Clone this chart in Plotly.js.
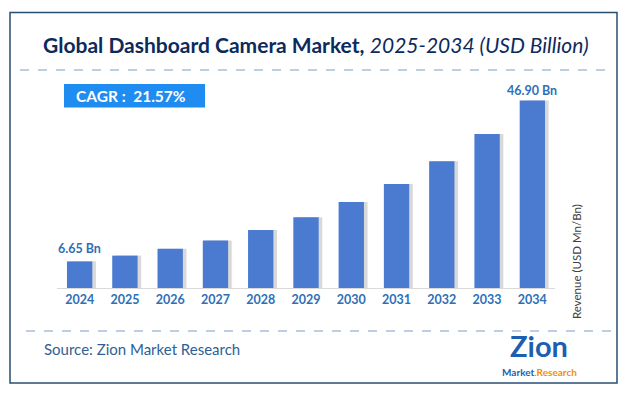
<!DOCTYPE html>
<html>
<head>
<meta charset="utf-8">
<script src="https://cdn.plot.ly/plotly-3.0.1.min.js"></script>
<style>html,body{margin:0;padding:0;background:#fff;}#chart{width:632px;height:398px;}</style>
</head>
<body>
<div id="chart"></div>
<script>
const years = ['2024','2025','2026','2027','2028','2029','2030','2031','2032','2033','2034'];
const revenue = [6.65, 8.1, 9.8, 11.9, 14.5, 17.7, 21.5, 26.0, 31.7, 38.5, 46.9];
const labelYears = ['2024','2034'];
const labelTexts = ['6.65 Bn','46.90 Bn'];
const titleMain = 'Global Dashboard Camera Market,';
const titleSub = '2025-2034 (USD Billion)';
const cagrText = 'CAGR :  21.57%';
const sourceText = 'Source: Zion Market Research';
const yTitle = 'Revenue (USD Mn/Bn)';

const W = 632, H = 398;
const M = {l: 57, r: 77, t: 88, b: 110};
const PW = W - M.l - M.r, PH = H - M.t - M.b;
const X = px => (px - M.l) / PW;
const Y = py => (H - M.b - py) / PH;
const FONT = 'Lato, "Open Sans", sans-serif';

const shadow = {
  type: 'bar', x: years, y: revenue, width: 0.56, offset: -0.2,
  marker: {color: 'rgba(0,0,0,0.15)', line: {width: 0}},
  hoverinfo: 'skip', showlegend: false
};
const bars = {
  type: 'bar', x: years, y: revenue, width: 0.56,
  marker: {color: '#4a7bd1', line: {width: 0}},
  showlegend: false
};

const annotations = [
  {xref: 'paper', yref: 'paper', x: X(316), y: Y(44), xanchor: 'center', yanchor: 'middle', showarrow: false,
   text: '<b>' + titleMain + '</b> <i>' + titleSub + '</i>',
   font: {family: FONT, size: 21, color: '#0d2a5c'}},
  {xref: 'paper', yref: 'paper', x: X(131), y: Y(96), xanchor: 'center', yanchor: 'middle', showarrow: false,
   text: '<b>' + cagrText + '</b>', font: {family: FONT, size: 15.5, color: '#ffffff'}},
  {xref: 'paper', yref: 'paper', x: X(42), y: Y(349), xanchor: 'left', yanchor: 'middle', showarrow: false,
   text: sourceText, font: {family: FONT, size: 15, color: '#2f5f96'}},
  {xref: 'paper', yref: 'paper', x: X(576), y: Y(262), xanchor: 'center', yanchor: 'middle', showarrow: false,
   textangle: -90, text: yTitle, font: {family: FONT, size: 11.5, color: '#404040'}},
  {xref: 'paper', yref: 'paper', x: X(539), y: Y(364), xanchor: 'center', yanchor: 'bottom', showarrow: false,
   borderpad: 0, text: '<b>Zion</b>', font: {family: FONT, size: 29, color: '#1c5fb0'}},
  {xref: 'paper', yref: 'paper', x: X(539), y: Y(365), xanchor: 'center', yanchor: 'top', showarrow: false,
   borderpad: 0,
   text: "<b><span style='color:#1c5fb0'>Market</span><span style='color:#f29100'>.Research</span></b>",
   font: {family: FONT, size: 10, color: '#1c5fb0'}}
];
labelYears.forEach((yr, i) => {
  const idx = years.indexOf(yr);
  annotations.push({x: idx, y: revenue[idx], xref: 'x', yref: 'y', showarrow: false,
    xanchor: 'center', yanchor: 'bottom', yshift: i === 0 ? 3 : 0,
    text: '<b>' + labelTexts[i] + '</b>', font: {family: FONT, size: 12.5, color: '#2e6fb8'}});
});

const shapes = [
  {type: 'rect', xref: 'paper', yref: 'paper', x0: X(10), x1: X(617), y0: Y(12.5), y1: Y(383),
   line: {color: '#2a4d74', width: 1.5}, fillcolor: 'rgba(0,0,0,0)', layer: 'below'},
  {type: 'line', xref: 'paper', yref: 'paper', x0: X(20), x1: X(611), y0: Y(70), y1: Y(70),
   line: {color: '#7f9cc6', width: 1, dash: 'dash'}},
  {type: 'line', xref: 'paper', yref: 'paper', x0: X(26), x1: X(612), y0: Y(331), y1: Y(331),
   line: {color: '#7f9cc6', width: 1, dash: 'dash'}},
  {type: 'rect', xref: 'paper', yref: 'paper', x0: X(64), x1: X(205), y0: Y(84), y1: Y(107.5),
   line: {width: 0}, fillcolor: '#1f8cf2', layer: 'below'}
];

const layout = {
  width: W, height: H,
  margin: M,
  paper_bgcolor: '#ffffff', plot_bgcolor: 'rgba(0,0,0,0)',
  barmode: 'overlay',
  showlegend: false,
  xaxis: {type: 'category', range: [-0.5, 10.5], showgrid: false, zeroline: false,
    showline: true, linecolor: '#d9d9d9', linewidth: 1, ticks: '',
    tickfont: {family: FONT, size: 12.5, color: '#2e6fb8', weight: 'bold'}, ticklen: 0, fixedrange: true},
  yaxis: {range: [0, 50], showgrid: false, zeroline: false, showticklabels: false, showline: false, fixedrange: true},
  annotations: annotations,
  shapes: shapes
};

Plotly.newPlot('chart', [shadow, bars], layout, {displayModeBar: false, staticPlot: true});
</script>
</body>
</html>
